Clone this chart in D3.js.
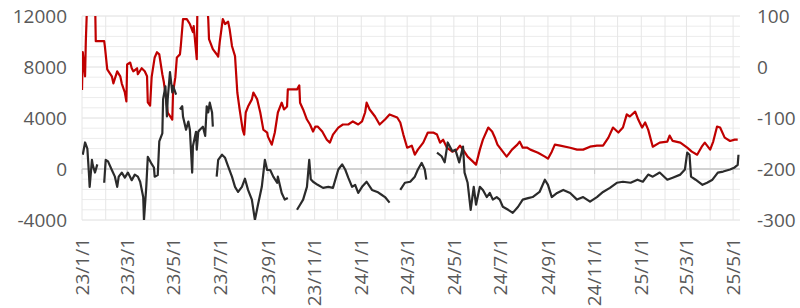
<!DOCTYPE html>
<html>
<head>
<meta charset="utf-8">
<script src="https://cdn.jsdelivr.net/npm/d3@7"></script>
<style>
  body { margin: 0; background: #fff; }
  svg text { font-family: "Open Sans", sans-serif; fill: #595959; }
</style>
</head>
<body>
<script>
const width = 800;
const height = 308;

const startDate = new Date(2023, 0, 1);
const endDate = new Date(2025, 4, 10);

// [days since 2023-01-01, value] -- red series, left axis
const redSeries = [
  [0,6200],[1,9160],[4,7270],[5,10030],[7,13500],[17,13500],[18,10030],[29,10030],[30,9550],[33,7820],
  [39,7270],[41,6720],[46,7660],[50,7270],[52,6700],[56,6000],[58,5300],[59,8200],[63,8350],[65,7900],
  [67,7660],[72,7900],[73,7430],[78,7900],[82,7660],[85,7270],[86,5220],[89,4980],[91,7200],[95,8750],
  [98,9160],[101,8990],[105,7430],[107,6800],[110,5460],[112,4430],[118,3880],[119,6000],[122,7200],[124,8750],
  [128,8990],[129,9550],[132,11760],[137,11760],[141,11370],[145,10740],[146,11200],[150,8610],[151,13500],[163,13500],
  [165,11760],[166,10190],[171,9400],[176,9000],[178,8820],[180,9950],[184,11760],[187,11370],[191,11560],[193,10950],
  [196,9650],[200,8850],[203,6000],[206,4670],[210,3090],[212,2700],[214,4430],[217,4900],[222,5460],[224,6000],
  [229,5460],[233,4430],[237,3090],[242,2860],[243,2540],[248,1910],[252,2860],[256,4430],[261,5200],[264,4670],
  [268,4900],[269,6240],[281,6240],[284,6560],[285,5200],[289,4670],[294,3880],[298,3490],[302,2940],[305,3330],
  [308,3330],[314,2940],[320,2300],[324,2070],[328,2700],[335,3250],[341,3490],[348,3490],[354,3730],[361,3490],
  [366,3730],[370,4430],[372,5200],[376,4670],[383,4120],[389,3490],[396,3880],[402,4280],[412,4040],[416,3650],
  [420,2700],[425,1670],[431,1830],[435,1120],[439,1520],[446,2070],[452,2860],[459,2860],[464,2700],[468,2070],
  [472,2300],[477,1670],[484,1360],[490,1520],[494,1830],[498,1520],[504,970],[511,580],[515,340],[520,1520],
  [524,2300],[531,3250],[536,2940],[540,2410],[543,1910],[550,1360],[555,970],[562,1520],[569,1910],[572,2150],
  [576,1670],[582,1670],[586,1520],[596,1280],[605,970],[609,810],[614,1360],[618,1910],[625,1830],[638,1670],
  [647,1520],[655,1520],[664,1750],[673,1830],[681,1830],[688,2460],[694,3250],[701,2860],[707,3250],[712,4280],
  [716,4120],[723,4500],[727,3880],[732,3250],[736,3650],[740,3090],[746,1750],[755,2070],[765,2150],[768,2620],
  [772,2200],[782,2070],[791,1670],[797,1360],[804,1120],[810,1750],[814,2070],[821,1520],[825,2150],[830,3330],
  [834,3250],[840,2460],[847,2200],[853,2300],[857,2300]
];

// [days since 2023-01-01, value] -- black series, right axis (null = gap)
const blackSeries = [
  [1,-172],[4,-148],[7,-160],[9,-207],[10,-235],[13,-182],[14,-192],[17,-207],[20,-191],[24,null],
  [29,-227],[31,-182],[34,-185],[39,-202],[43,-215],[46,-235],[48,-215],[52,-207],[56,-217],[60,-207],
  [65,-222],[69,-211],[73,-215],[76,-225],[80,-255],[81,-300],[84,-235],[86,-176],[91,-190],[94,-197],
  [95,-215],[99,-212],[101,-146],[105,-130],[106,-63],[109,-38],[111,-97],[112,-63],[115,-10],[118,-50],
  [119,-37],[123,-54],[125,null],
  [128,-83],[131,-77],[132,-97],[136,-123],[139,-107],[141,-123],[144,-207],[145,-155],[149,-127],[150,-162],
  [152,-127],[154,-123],[158,-117],[161,-135],[163,-77],[165,-89],[167,-70],[170,-89],[171,-117],[173,null],
  [176,-215],[178,-182],[183,-172],[187,-178],[191,-195],[196,-215],[200,-235],[204,-245],[209,-235],[213,-219],
  [217,-241],[222,-260],[226,-300],[230,-270],[235,-235],[239,-182],[242,-202],[246,-202],[250,-215],[255,-227],
  [256,-215],[261,-247],[265,-260],[269,-257],[275,null],
  [281,-280],[285,-270],[289,-260],[294,-235],[297,-182],[299,-220],[302,-225],[308,-231],[315,-237],[322,-235],
  [328,-237],[335,-201],[340,-191],[344,-201],[348,-217],[353,-235],[357,-231],[361,-247],[366,-235],[372,-225],
  [379,-241],[386,-245],[392,-251],[396,-255],[402,-266],[409,null],
  [416,-241],[422,-227],[429,-225],[435,-215],[439,-201],[444,-188],[448,-201],[450,-221],[457,null],
  [464,-168],[470,-175],[474,-187],[478,-148],[484,-165],[488,-162],[493,-187],[498,-156],[500,-207],[504,-227],
  [508,-280],[512,-235],[515,-270],[520,-235],[524,-241],[529,-255],[533,-247],[537,-260],[542,-255],[546,-260],
  [550,-274],[557,-280],[563,-286],[570,-274],[576,-260],[583,-257],[589,-255],[598,-245],[605,-221],[609,-231],
  [614,-255],[621,-247],[629,-241],[638,-247],[647,-260],[655,-255],[664,-264],[673,-255],[681,-245],[690,-237],
  [699,-227],[707,-225],[717,-227],[726,-221],[733,-225],[740,-211],[746,-215],[755,-207],[765,-221],[772,-217],
  [782,-211],[788,-201],[791,-168],[794,-172],[796,-215],[802,-221],[811,-231],[817,-227],[824,-221],[831,-207],
  [838,-205],[847,-201],[853,-197],[857,-192],[858,-172]
];

const leftTicks = [-4000, 0, 4000, 8000, 12000];
const rightTicks = [-300, -200, -100, 0, 100];

const margin = { left: 82, right: 60, top: 16, bottom: 88 };
const plotW = width - margin.left - margin.right;
const plotH = height - margin.top - margin.bottom;

const x = d3.scaleTime().domain([startDate, endDate]).range([margin.left, margin.left + plotW]);
const yL = d3.scaleLinear().domain([-4000, 12000]).range([margin.top + plotH, margin.top]);
const yR = d3.scaleLinear().domain([-300, 100]).range([margin.top + plotH, margin.top]);

const day = n => d3.timeDay.offset(startDate, n);

const svg = d3.select("body").append("svg").attr("width", width).attr("height", height);

svg.append("clipPath").attr("id", "plot")
  .append("rect")
  .attr("x", margin.left).attr("y", margin.top)
  .attr("width", plotW).attr("height", plotH);

// grid
const grid = svg.append("g");
grid.selectAll(".hg")
  .data(d3.range(-4000, 12001, 800))
  .enter().append("line")
  .attr("x1", margin.left).attr("x2", margin.left + plotW)
  .attr("y1", d => yL(d)).attr("y2", d => yL(d))
  .attr("stroke", d => d % 4000 === 0 ? "#dedede" : "#ececec")
  .attr("stroke-width", 1);

const months = d3.timeMonth.range(startDate, endDate);
grid.selectAll(".vg")
  .data(months)
  .enter().append("line")
  .attr("x1", d => x(d)).attr("x2", d => x(d))
  .attr("y1", margin.top).attr("y2", margin.top + plotH)
  .attr("stroke", "#e6e6e6")
  .attr("stroke-width", 1);

// axis line at 0 with ticks every 2 months
const tickDates = d3.timeMonth.every(2).range(startDate, endDate);
svg.append("line")
  .attr("x1", margin.left).attr("x2", margin.left + plotW)
  .attr("y1", yL(0)).attr("y2", yL(0))
  .attr("stroke", "#c8c8c8").attr("stroke-width", 1.3);
svg.selectAll(".tk")
  .data(tickDates)
  .enter().append("line")
  .attr("x1", d => x(d)).attr("x2", d => x(d))
  .attr("y1", yL(0)).attr("y2", yL(0) + 5)
  .attr("stroke", "#c8c8c8");

// lines
const lineL = d3.line().x(d => x(day(d[0]))).y(d => yL(d[1]));
const lineR = d3.line()
  .defined(d => d[1] !== null)
  .x(d => x(day(d[0]))).y(d => yR(d[1]));

const lines = svg.append("g").attr("clip-path", "url(#plot)");
lines.append("path")
  .datum(redSeries)
  .attr("d", lineL)
  .attr("fill", "none")
  .attr("stroke", "#c00000")
  .attr("stroke-width", 2.2)
  .attr("stroke-linejoin", "round");
lines.append("path")
  .datum(blackSeries)
  .attr("d", lineR)
  .attr("fill", "none")
  .attr("stroke", "#2b2b2b")
  .attr("stroke-width", 2.2)
  .attr("stroke-linejoin", "round");

// axis labels
svg.selectAll(".ll")
  .data(leftTicks)
  .enter().append("text")
  .attr("x", 67).attr("y", d => yL(d))
  .attr("dy", "0.35em")
  .attr("text-anchor", "end")
  .attr("font-size", "19px")
  .text(d => d);

svg.selectAll(".rl")
  .data(rightTicks)
  .enter().append("text")
  .attr("x", 757).attr("y", d => yR(d))
  .attr("dy", "0.35em")
  .attr("font-size", "19px")
  .text(d => d);

const fmt = d3.timeFormat("%y/%-m/%-d");
svg.selectAll(".xl")
  .data(tickDates)
  .enter().append("text")
  .attr("transform", d => `translate(${x(d)},238) rotate(-90)`)
  .attr("dy", "0.35em")
  .attr("text-anchor", "end")
  .attr("font-size", "19px")
  .text(d => fmt(d));
</script>
</body>
</html>
